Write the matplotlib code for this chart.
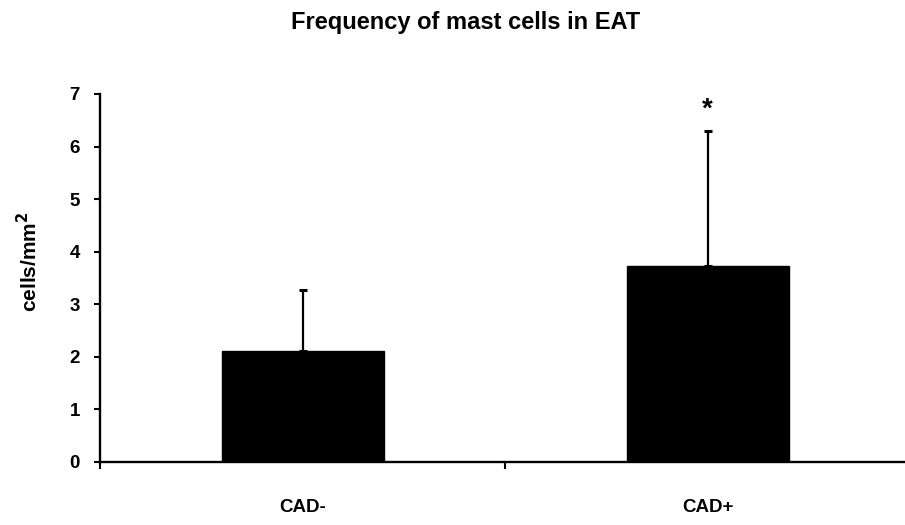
import matplotlib
matplotlib.use("Agg")
import matplotlib.pyplot as plt
from matplotlib.ticker import FixedLocator

categories = ["CAD-", "CAD+"]
values = [2.12, 3.72]
errors = [1.16, 2.57]
sig_marks = ["", "*"]
yticks = [0, 1, 2, 3, 4, 5, 6, 7]

plt.rcParams['font.family'] = ['Liberation Sans', 'DejaVu Sans']
plt.rcParams['font.weight'] = 'bold'

W, H = 905, 525
fig = plt.figure(figsize=(W / 100, H / 100), dpi=100)
ax = fig.add_axes([100 / W, 1 - 462 / H, 810 / W, (462 - 94) / H])

x = list(range(len(categories)))
ax.bar(x, values, width=0.4, color='black', edgecolor='black', zorder=2)
ax.errorbar(x, values, yerr=[[0] * len(values), errors], fmt='none',
            ecolor='black', elinewidth=1.6, capsize=3.2, capthick=2.2, zorder=1)
for xi, v, e, s in zip(x, values, errors, sig_marks):
    if s:
        ax.text(xi, v + e + 0.17, s, ha='center', va='bottom', fontsize=20,
                fontweight='bold')

ax.set_xlim(-0.5, 1.5)
ax.set_ylim(0, 7)
ax.set_yticks(yticks)
ax.set_yticklabels([str(t) for t in yticks], fontsize=13.5, fontweight='bold')
ax.set_xticks(x)
ax.set_xticklabels(categories, fontsize=13.5, fontweight='bold')
ax.tick_params(axis='x', which='major', length=0, pad=27)
ax.xaxis.set_minor_locator(FixedLocator([-0.5, 0.5]))
ax.tick_params(axis='x', which='minor', length=5, width=1.5, direction='out')
ax.tick_params(axis='y', length=4, width=1.5, direction='out', pad=10.5)

for side in ['top', 'right']:
    ax.spines[side].set_visible(False)
for side in ['left', 'bottom']:
    ax.spines[side].set_linewidth(1.7)

ax.set_ylabel("cells/mm$^\\mathbf{2}$", fontsize=15, fontweight='bold')
ax.yaxis.set_label_coords(-0.073, 0.543)
fig.text(466 / W, 1 - 22 / H, "Frequency of mast cells in EAT", ha='center',
         va='center', fontsize=17, fontweight='bold')

fig.savefig("out.png", dpi=100)
